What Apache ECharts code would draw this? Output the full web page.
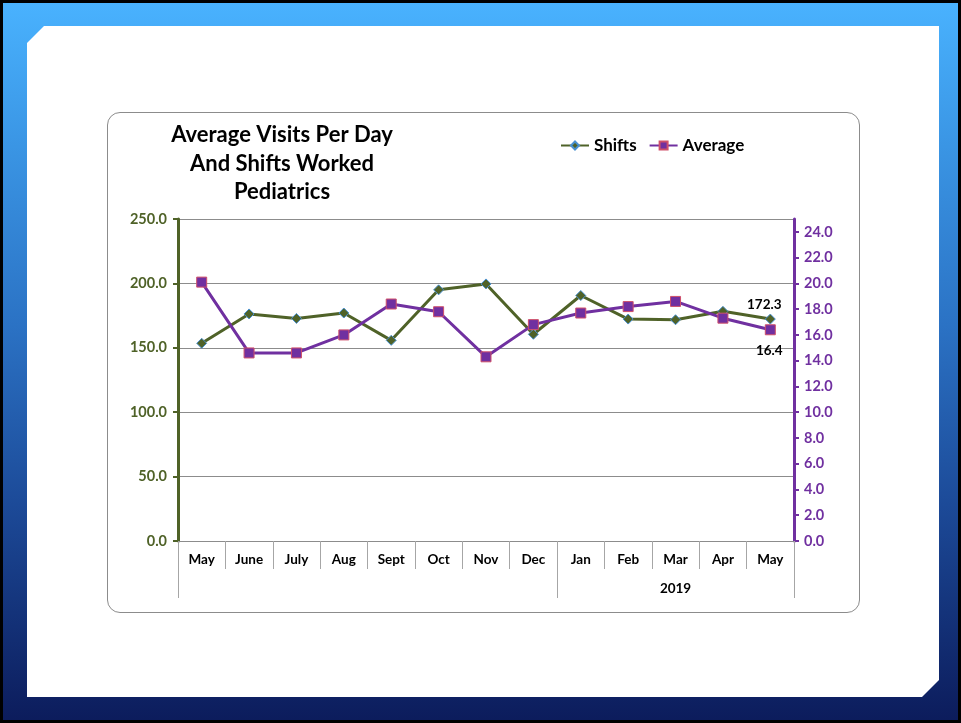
<!DOCTYPE html>
<html>
<head>
<meta charset="utf-8">
<script src="https://cdn.jsdelivr.net/npm/echarts@6/dist/echarts.min.js"></script>
<style>
  html, body { margin: 0; padding: 0; width: 961px; height: 723px; overflow: hidden; background: #000; }
  #frame { position: absolute; left: 3px; top: 3px; width: 955px; height: 717px;
    background: linear-gradient(to bottom, #49b2fe 0%, #3a95e4 20%, #2b72c4 45%, #1c4a98 70%, #0c1c5c 100%); }
  #panel { position: absolute; left: 27px; top: 26px; width: 912px; height: 671px; background: #fff;
    clip-path: polygon(17px 0, 100% 0, 100% calc(100% - 17px), calc(100% - 17px) 100%, 0 100%, 0 17px); }
  #box { position: absolute; left: 107px; top: 112px; width: 751px; height: 499px; border: 1px solid #8c8c8c; border-radius: 13px; background: #fff; }
  #chart { position: absolute; left: 0; top: 0; width: 961px; height: 723px; }
</style>
</head>
<body>
<div id="frame"></div>
<div id="panel"></div>
<div id="box"></div>
<div id="chart"></div>
<script>
const months = ['May', 'June', 'July', 'Aug', 'Sept', 'Oct', 'Nov', 'Dec', 'Jan', 'Feb', 'Mar', 'Apr', 'May'];
const yearLabel = '2019';
const yearGroupBounds = [0, 8, 13];   // category boundaries of the year groups
const yearLabelPos = [10.5];          // centre of the 2019 group (in category units)
const shifts = [153.5, 176.3, 172.8, 177.0, 155.8, 195.0, 199.6, 160.5, 190.6, 172.3, 171.8, 178.3, 172.3];
const average = [20.1, 14.6, 14.6, 16.0, 18.4, 17.8, 14.3, 16.8, 17.7, 18.2, 18.6, 17.3, 16.4];
const leftTicks = { min: 0, max: 250, interval: 50 };
const rightTicks = { min: 0, max: 25, interval: 2 };

const FONT = 'Lato, "Open Sans", sans-serif';
const GREEN = '#4f6228';
const PURPLE = '#7030a0';
const SEP = '#a6a6a6';

function withLastLabel(arr, labelOpt) {
  return arr.map((v, i) => i === arr.length - 1 ? { value: v, label: labelOpt } : v);
}

const chart = echarts.init(document.getElementById('chart'), null, { renderer: 'canvas' });
chart.setOption({
  backgroundColor: 'transparent',
  animation: false,
  textStyle: { fontFamily: FONT },
  title: {
    text: 'Average Visits Per Day\nAnd Shifts Worked\nPediatrics',
    left: 277, top: 116, textAlign: 'center',
    textStyle: { fontFamily: FONT, fontSize: 22, fontWeight: 'bold', color: '#000', lineHeight: 28.5 }
  },
  legend: {
    left: 555, top: 132, itemWidth: 28, itemHeight: 10, itemGap: 12,
    textStyle: { fontFamily: FONT, fontSize: 17, fontWeight: 'bold', color: '#000' },
    data: ['Shifts', 'Average']
  },
  grid: { left: 178, right: 167, top: 219, bottom: 182 },
  xAxis: [
    {
      type: 'category', data: months, boundaryGap: true,
      axisLine: { show: true, lineStyle: { color: '#8c8c8c', width: 1 } },
      axisTick: { show: true, length: 28, interval: 0, lineStyle: { color: SEP } },
      axisLabel: { interval: 0, margin: 12, color: '#000', fontSize: 13.5, fontWeight: 'bold', fontFamily: FONT }
    },
    {
      type: 'value', position: 'bottom', offset: 28, min: 0, max: months.length,
      axisLine: { show: false },
      splitLine: { show: false },
      axisTick: { show: false },
      axisLabel: { show: true, customValues: yearLabelPos, margin: 13, color: '#000', fontSize: 13.5,
        fontWeight: 'bold', fontFamily: FONT, formatter: () => yearLabel }
    }
  ],
  yAxis: [
    {
      type: 'value', position: 'left', min: leftTicks.min, max: leftTicks.max, interval: leftTicks.interval,
      axisLine: { show: true, lineStyle: { color: GREEN, width: 3 } },
      axisTick: { show: true, length: 5, lineStyle: { color: GREEN, width: 2 } },
      axisLabel: { margin: 11, color: GREEN, fontSize: 14.5, fontWeight: 'bold', fontFamily: FONT,
        formatter: v => v.toFixed(1) },
      splitLine: { show: true, lineStyle: { color: '#8c8c8c', width: 1 } }
    },
    {
      type: 'value', position: 'right', min: rightTicks.min, max: rightTicks.max, interval: rightTicks.interval,
      axisLine: { show: true, lineStyle: { color: PURPLE, width: 3 } },
      axisTick: { show: true, length: 5, lineStyle: { color: PURPLE, width: 2 } },
      axisLabel: { margin: 10, color: PURPLE, fontSize: 14.5, fontWeight: 'bold', fontFamily: FONT,
        showMaxLabel: false, formatter: v => v.toFixed(1) },
      splitLine: { show: false }
    }
  ],
  series: [
    {
      name: 'yearSeparators', type: 'custom', xAxisIndex: 1, yAxisIndex: 0, silent: true, clip: false,
      data: yearGroupBounds.map(b => [b, 0]),
      renderItem: function (params, api) {
        const p = api.coord([api.value(0), api.value(1)]);
        const x = Math.round(p[0]) + 0.5;
        return { type: 'line', shape: { x1: x, y1: p[1], x2: x, y2: p[1] + 57 },
          style: { stroke: SEP, lineWidth: 1 } };
      },
      z: 1
    },
    {
      name: 'Shifts', type: 'line', xAxisIndex: 0, yAxisIndex: 0,
      data: withLastLabel(shifts, { show: true, position: 'top', offset: [-6, 3], distance: 5,
        color: '#000', fontSize: 13.5, fontWeight: 'bold', fontFamily: FONT, formatter: p => p.value.toFixed(1) }),
      symbol: 'diamond', symbolSize: 10,
      lineStyle: { color: GREEN, width: 3 },
      itemStyle: { color: GREEN, borderColor: '#4a90d0', borderWidth: 1 }
    },
    {
      name: 'Average', type: 'line', xAxisIndex: 0, yAxisIndex: 1,
      data: withLastLabel(average, { show: true, position: 'bottom', offset: [-1, 3], distance: 5,
        color: '#000', fontSize: 13.5, fontWeight: 'bold', fontFamily: FONT, formatter: p => p.value.toFixed(1) }),
      symbol: 'rect', symbolSize: 10,
      lineStyle: { color: PURPLE, width: 3 },
      itemStyle: { color: PURPLE, borderColor: '#d0506a', borderWidth: 1 }
    }
  ]
});
</script>
</body>
</html>
